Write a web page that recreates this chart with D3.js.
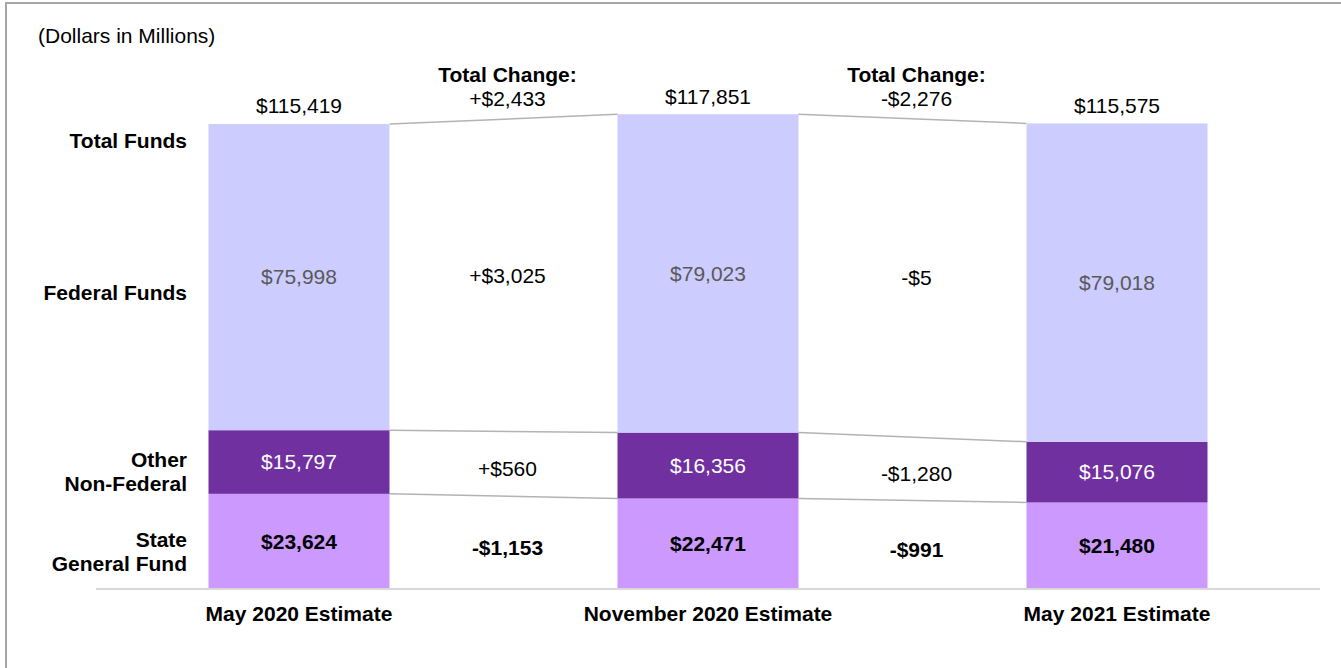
<!DOCTYPE html>
<html>
<head>
<meta charset="utf-8">
<script src="https://cdn.jsdelivr.net/npm/d3@7"></script>
<style>
    html, body { margin: 0; padding: 0; background: #fff; }
    svg { display: block; font-family: "Liberation Sans", Arial, sans-serif; }
</style>
</head>
<body>
<div id="chart"></div>
<script>
// Funding by source - stacked bars with change bridges

const categories = ['May 2020 Estimate', 'November 2020 Estimate', 'May 2021 Estimate'];
const generalFund = [23624, 22471, 21480];
const otherNonFederal = [15797, 16356, 15076];
const federalFunds = [75998, 79023, 79018];
const totalFunds = [115419, 117851, 115575];

const totalChange = [2433, -2276];
const federalChange = [3025, -5];
const otherChange = [560, -1280];
const generalChange = [-1153, -991];

const rowLabels = [
    { lines: ['Total Funds'], y: 141 },
    { lines: ['Federal Funds'], y: 293 },
    { lines: ['Other', 'Non-Federal'], y: 472 },
    { lines: ['State', 'General Fund'], y: 552 }
];

function createChart() {
    const width = 1341;
    const height = 668;

    const svg = d3.select('#chart').append('svg')
        .attr('width', width)
        .attr('height', height);

    // frame
    svg.append('rect')
        .attr('x', 6).attr('y', 3)
        .attr('width', 1340).attr('height', 680)
        .attr('fill', 'none')
        .attr('stroke', '#a6a6a6')
        .attr('stroke-width', 2);

    const x = d3.scalePoint()
        .domain(categories)
        .range([299, 1117]);
    const barWidth = 181;

    const y = d3.scaleLinear()
        .domain([0, 120000])
        .range([589, 105.6]);

    const fmt = v => '$' + d3.format(',')(Math.abs(v));
    const fmtSigned = v => (v < 0 ? '-' : '+') + fmt(v);

    const rows = categories.map((c, i) => ({
        category: c,
        general: generalFund[i],
        other: otherNonFederal[i],
        federal: federalFunds[i]
    }));

    const keys = ['general', 'other', 'federal'];
    const colors = { general: '#cc99ff', other: '#7030a0', federal: '#ccccff' };
    const labelStyle = {
        general: { fill: '#000', weight: 700 },
        other: { fill: '#ffffff', weight: 400 },
        federal: { fill: '#595959', weight: 400 }
    };

    const series = d3.stack().keys(keys)(rows);

    // connector lines between bars
    const connectors = [];
    series.forEach(s => {
        for (let i = 0; i < categories.length - 1; i++) {
            connectors.push({ x1: x(categories[i]) + barWidth / 2, y1: y(s[i][1]),
                x2: x(categories[i + 1]) - barWidth / 2, y2: y(s[i + 1][1]) });
        }
    });
    svg.selectAll('.connector')
        .data(connectors)
        .enter()
        .append('line')
        .attr('class', 'connector')
        .attr('x1', d => d.x1).attr('y1', d => d.y1)
        .attr('x2', d => d.x2).attr('y2', d => d.y2)
        .attr('stroke', '#b3b3b3')
        .attr('stroke-width', 1.5);

    // bars
    const groups = svg.selectAll('.layer')
        .data(series)
        .enter()
        .append('g')
        .attr('class', 'layer')
        .attr('fill', d => colors[d.key]);

    groups.selectAll('rect')
        .data(d => d)
        .enter()
        .append('rect')
        .attr('x', d => x(d.data.category) - barWidth / 2)
        .attr('y', d => y(d[1]))
        .attr('width', barWidth)
        .attr('height', d => y(d[0]) - y(d[1]));

    // segment labels
    series.forEach(s => {
        svg.selectAll('.seg-' + s.key)
            .data(s)
            .enter()
            .append('text')
            .attr('x', d => x(d.data.category))
            .attr('y', d => (y(d[0]) + y(d[1])) / 2)
            .attr('dy', '0.35em')
            .attr('text-anchor', 'middle')
            .attr('font-size', '21px')
            .attr('font-weight', labelStyle[s.key].weight)
            .attr('fill', labelStyle[s.key].fill)
            .text(d => fmt(d.data[s.key]));
    });

    // totals above bars
    svg.selectAll('.total')
        .data(categories)
        .enter()
        .append('text')
        .attr('x', d => x(d))
        .attr('y', (d, i) => y(totalFunds[i]) - 18)
        .attr('dy', '0.35em')
        .attr('text-anchor', 'middle')
        .attr('font-size', '21px')
        .attr('fill', '#000')
        .text((d, i) => fmt(totalFunds[i]));

    // change labels between bars
    const mids = categories.slice(0, -1).map((c, i) => (x(c) + x(categories[i + 1])) / 2 + 4);

    function changeLabels(values, key, bold, offset) {
        const s = series.find(d => d.key === key);
        svg.selectAll('.chg-' + key)
            .data(values)
            .enter()
            .append('text')
            .attr('x', (d, i) => mids[i])
            .attr('y', (d, i) => {
                const a = (y(s[i][0]) + y(s[i][1])) / 2;
                const b = (y(s[i + 1][0]) + y(s[i + 1][1])) / 2;
                return (a + b) / 2 + offset;
            })
            .attr('dy', '0.35em')
            .attr('text-anchor', 'middle')
            .attr('font-size', '21px')
            .attr('font-weight', bold ? 700 : 400)
            .attr('fill', '#000')
            .text(d => fmtSigned(d));
    }
    changeLabels(federalChange, 'federal', false, 0);
    changeLabels(otherChange, 'other', false, 5);
    changeLabels(generalChange, 'general', true, 5);

    const tc = svg.selectAll('.total-change')
        .data(totalChange)
        .enter()
        .append('text')
        .attr('x', (d, i) => mids[i])
        .attr('text-anchor', 'middle')
        .attr('font-size', '21px')
        .attr('fill', '#000');
    tc.append('tspan')
        .attr('x', (d, i) => mids[i])
        .attr('y', 82)
        .attr('font-weight', 700)
        .text('Total Change:');
    tc.append('tspan')
        .attr('x', (d, i) => mids[i])
        .attr('y', 106)
        .text(d => fmtSigned(d));

    // baseline
    svg.append('line')
        .attr('x1', 96).attr('x2', 1320)
        .attr('y1', y(0)).attr('y2', y(0))
        .attr('stroke', '#d9d9d9')
        .attr('stroke-width', 2);

    // category axis labels
    svg.selectAll('.cat')
        .data(categories)
        .enter()
        .append('text')
        .attr('x', d => x(d))
        .attr('y', 614)
        .attr('dy', '0.35em')
        .attr('text-anchor', 'middle')
        .attr('font-size', '21px')
        .attr('font-weight', 700)
        .attr('fill', '#000')
        .text(d => d);

    // row labels
    const rl = svg.selectAll('.row-label')
        .data(rowLabels)
        .enter()
        .append('text')
        .attr('text-anchor', 'end')
        .attr('font-size', '21px')
        .attr('font-weight', 700)
        .attr('fill', '#000');
    rl.selectAll('tspan')
        .data(d => d.lines.map((t, i) => ({ t, y: d.y + (i - (d.lines.length - 1) / 2) * 24 })))
        .enter()
        .append('tspan')
        .attr('x', 187)
        .attr('y', d => d.y)
        .attr('dy', '0.35em')
        .text(d => d.t);

    svg.append('text')
        .attr('x', 38)
        .attr('y', 36)
        .attr('dy', '0.35em')
        .attr('font-size', '21px')
        .attr('fill', '#000')
        .text('(Dollars in Millions)');
}

createChart();
</script>
</body>
</html>
